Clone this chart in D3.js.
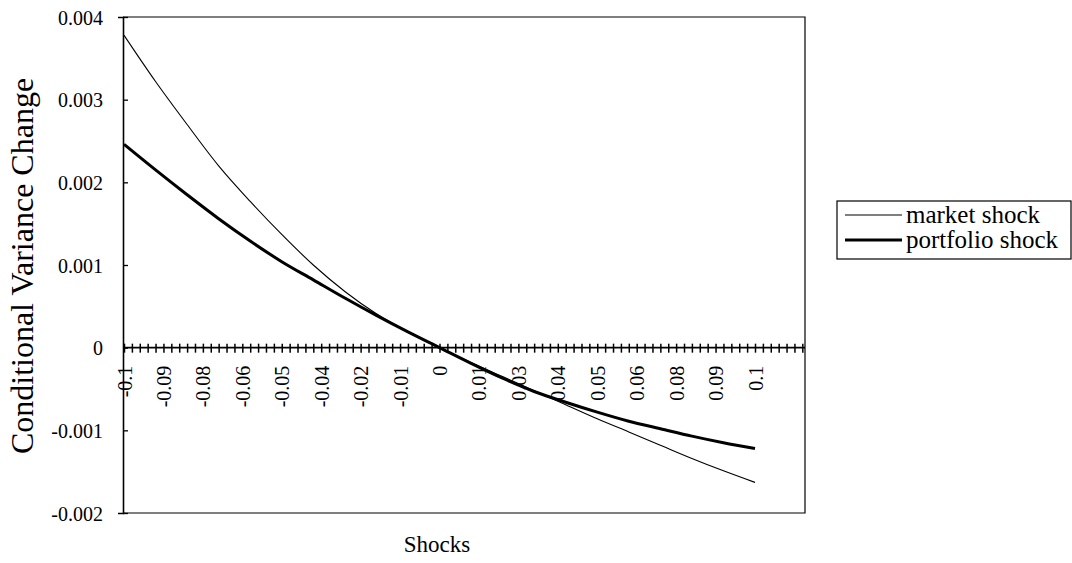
<!DOCTYPE html>
<html>
<head>
<meta charset="utf-8">
<script src="https://cdn.jsdelivr.net/npm/d3@7"></script>
<style>
  html, body { margin: 0; padding: 0; background: #fff; }
  svg { display: block; }
  svg text { font-family: "Liberation Serif", "Times New Roman", serif; fill: #000; }
</style>
</head>
<body>
<svg id="chart" width="1072" height="563"></svg>
<script>
// Shock sizes on the category axis and the change in conditional variance they cause
const shocks = [-0.1, -0.09, -0.08, -0.07, -0.06, -0.05, -0.04, -0.03, -0.02, -0.01, 0,
                0.01, 0.02, 0.03, 0.04, 0.05, 0.06, 0.07, 0.08, 0.09, 0.1];
const marketShock = [0.00378, 0.00322, 0.00270, 0.00220, 0.00177, 0.00137, 0.00100, 0.00068, 0.00041, 0.00019, 0.0,
                     -0.00018, -0.00035, -0.00052, -0.00069, -0.00086, -0.00102, -0.00118, -0.00134, -0.00149, -0.00163];
const portfolioShock = [0.00246, 0.00215, 0.00185, 0.00156, 0.00129, 0.00104, 0.00082, 0.00060, 0.00039, 0.00019, 0.0,
                        -0.00019, -0.00037, -0.00053, -0.00066, -0.00078, -0.00089, -0.00098, -0.00107, -0.00115, -0.00122];

// Category axis: a tick every 0.0025, a label every fifth tick
const categoryStart = -0.1;
const categoryStep = 0.0025;
const categoryCount = 87;
const labelEvery = 5;
const xTickLabels = ["-0.1", "-0.09", "-0.08", "-0.06", "-0.05", "-0.04", "-0.02", "-0.01", "0",
                     "0.01", "0.03", "0.04", "0.05", "0.06", "0.08", "0.09", "0.1"];

// Value axis
const yTicks = [0.004, 0.003, 0.002, 0.001, 0, -0.001, -0.002];
const yTickLabels = ["0.004", "0.003", "0.002", "0.001", "0", "-0.001", "-0.002"];

const seriesNames = ["market shock", "portfolio shock"];

const serif = '"Liberation Serif", "Times New Roman", serif';
const svg = d3.select("#chart");
const plot = { left: 123, top: 17, right: 805, bottom: 513 };

const x = d3.scaleLinear().domain([-0.1, 0.1]).range([124, 755]);
const y = d3.scaleLinear().domain([-0.002, 0.004]).range([plot.bottom, plot.top]);

// Plot area frame (top, right, bottom)
svg.append("path")
  .attr("d", `M${plot.left},${plot.top}H${plot.right}V${plot.bottom}H${plot.left}`)
  .attr("fill", "none").attr("stroke", "#000").attr("stroke-width", 1.2);

// Value axis with crossing ticks
const yAxis = svg.append("g")
  .attr("transform", `translate(${plot.left},0)`)
  .call(d3.axisLeft(y).tickValues(yTicks).tickSize(5).tickFormat(""))
  .attr("font-family", serif).attr("font-size", 20);
yAxis.select(".domain").attr("stroke-width", 1.6);
yAxis.selectAll(".tick line").attr("x2", 5).attr("stroke-width", 1.3);
yAxis.selectAll(".tick").append("text")
  .attr("x", -20).attr("dy", "0.35em")
  .attr("text-anchor", "end")
  .style("font-size", "20px")
  .text((d, i) => yTickLabels[i]);

// Category axis lying on the zero line
const categories = d3.range(categoryCount).map(i => categoryStart + i * categoryStep);
const xAxis = svg.append("g")
  .attr("transform", `translate(0,${y(0)})`)
  .call(d3.axisBottom(x).tickValues(categories).tickSize(5).tickFormat("").tickSizeOuter(0))
  .attr("font-family", serif).attr("font-size", 20);
xAxis.select(".domain").attr("d", `M${plot.left},0H${plot.right}`).attr("stroke-width", 1.6);
xAxis.selectAll(".tick line").attr("y1", -4).attr("stroke-width", 1.5);

xAxis.selectAll(".tick")
  .filter((d, i) => i % labelEvery === 0 && i / labelEvery < xTickLabels.length)
  .append("text")
  .attr("transform", "translate(0,18) rotate(-90)")
  .attr("dy", "0.35em")
  .attr("text-anchor", "end")
  .style("font-size", "20px")
  .text((d, i) => xTickLabels[i]);

// Series lines
const line = d3.line()
  .x((d, i) => x(shocks[i]))
  .y(d => y(d))
  .curve(d3.curveMonotoneX);

svg.append("path").datum(marketShock)
  .attr("d", line).attr("fill", "none").attr("stroke", "#000").attr("stroke-width", 1.1);
svg.append("path").datum(portfolioShock)
  .attr("d", line).attr("fill", "none").attr("stroke", "#000").attr("stroke-width", 3);

// Axis titles
svg.append("text")
  .attr("transform", "translate(33,266) rotate(-90)")
  .attr("text-anchor", "middle")
  .style("font-size", "32px")
  .text("Conditional Variance Change");

svg.append("text")
  .attr("x", 437).attr("y", 552)
  .attr("text-anchor", "middle")
  .style("font-size", "23px")
  .text("Shocks");

// Legend
const legend = svg.append("g");
legend.append("rect")
  .attr("x", 837).attr("y", 201).attr("width", 234).attr("height", 58)
  .attr("fill", "#fff").attr("stroke", "#000").attr("stroke-width", 1.2);
const rows = legend.selectAll("g.row").data(seriesNames).enter().append("g")
  .attr("class", "row")
  .attr("transform", (d, i) => `translate(0,${215 + i * 25})`);
rows.append("line")
  .attr("x1", 845).attr("x2", 902)
  .attr("stroke", "#000")
  .attr("stroke-width", (d, i) => i === 0 ? 1.1 : 3);
rows.append("text")
  .attr("x", 906).attr("dy", "0.33em")
  .style("font-size", "25px")
  .text(d => d);
</script>
</body>
</html>
